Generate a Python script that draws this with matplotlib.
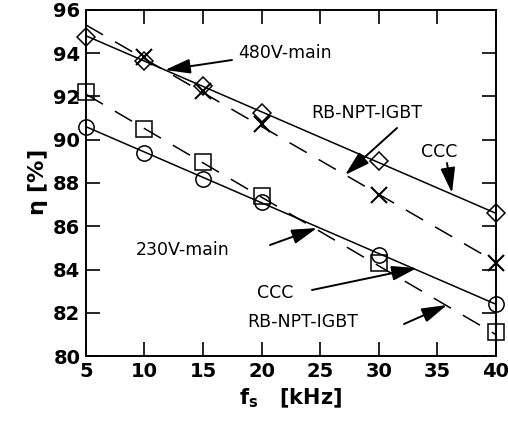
import matplotlib
matplotlib.use("Agg")
import matplotlib.pyplot as plt
import numpy as np

fs = [5, 10, 15, 20, 30, 40]

# 480V mains
eta_480_ccc = [94.75, 93.65, 92.5, 91.25, 89.0, 86.6]
fs_480_rb = [10, 15, 20, 30, 40]
eta_480_rb = [93.8, 92.25, 90.7, 87.45, 84.3]
# 230V mains
eta_230_ccc = [90.6, 89.4, 88.2, 87.1, 84.65, 82.4]
eta_230_rb = [92.2, 90.5, 88.95, 87.4, 84.3, 81.1]

# straight fit lines drawn on the chart (end values at 5 and 40 kHz)
fit_x = [5, 40]
fit_480_ccc = [94.8, 86.6]
fit_480_rb = [95.3, 84.35]
fit_230_ccc = [90.6, 82.4]
fit_230_rb = [92.1, 81.0]

plt.rcParams['font.family'] = 'DejaVu Sans'

fig = plt.figure(figsize=(5.08, 4.23), dpi=100)
ax = fig.add_axes([0.169, 0.158, 0.807, 0.819])

dash = (0, (13, 9))
ax.plot(fit_x, fit_480_ccc, color='k', lw=1.1)
ax.plot(fit_x, fit_230_ccc, color='k', lw=1.1)
ax.plot(fit_x, fit_480_rb, color='k', lw=1.1, linestyle=dash)
ax.plot(fit_x, fit_230_rb, color='k', lw=1.1, linestyle=dash)

ax.plot(fs, eta_480_ccc, 'D', mfc='none', mec='k', ms=9, mew=1.1, clip_on=False)
ax.plot(fs_480_rb, eta_480_rb, 'x', color='k', ms=11, mew=1.5, clip_on=False)
ax.plot(fs, eta_230_ccc, 'o', mfc='none', mec='k', ms=11, mew=1.1, clip_on=False)
ax.plot(fs, eta_230_rb, 's', mfc='none', mec='k', ms=11, mew=1.1, clip_on=False)

ax.set_xlim(5, 40)
ax.set_ylim(80, 96)
ax.set_xticks([5, 10, 15, 20, 25, 30, 35, 40])
ax.set_yticks([80, 82, 84, 86, 88, 90, 92, 94, 96])
ax.tick_params(direction='in', length=10, width=1.2, top=True, right=True,
               labelsize=14, pad=4)
for lab in ax.get_xticklabels() + ax.get_yticklabels():
    lab.set_fontweight('bold')
for sp in ax.spines.values():
    sp.set_linewidth(1.4)

ax.set_xlabel(r'$\mathbf{f_s}$   [kHz]', fontsize=15, fontweight='bold', labelpad=4)
ax.set_ylabel(r'$\mathbf{\eta}$ [%]', fontsize=16, fontweight='bold', labelpad=2)

arrow = dict(arrowstyle='-|>,head_length=0.55,head_width=0.16', mutation_scale=28,
             lw=1.4, color='k', shrinkA=0, shrinkB=0)
txt = dict(fontsize=12.5, ha='left', va='center')


def px(x, y):
    # figure pixel coordinates (from top-left) to data coords
    inv = ax.transData.inverted()
    return inv.transform((x, 423 - y))


fig.canvas.draw()
ax.annotate('480V-main', xy=px(238, 53), **txt)
ax.annotate('', xy=px(165, 70), xytext=px(232, 60), arrowprops=arrow)
ax.annotate('RB-NPT-IGBT', xy=px(311, 113), **txt)
ax.annotate('', xy=px(345, 175), xytext=px(397, 128), arrowprops=arrow)
ax.annotate('CCC', xy=px(421, 152), **txt)
ax.annotate('', xy=px(452, 193), xytext=px(447, 163), arrowprops=arrow)
ax.annotate('230V-main', xy=px(136, 250), **txt)
ax.annotate('', xy=px(317, 228), xytext=px(270, 245), arrowprops=arrow)
ax.annotate('CCC', xy=px(257, 293), **txt)
ax.annotate('', xy=px(417, 268), xytext=px(312, 290), arrowprops=arrow)
ax.annotate('RB-NPT-IGBT', xy=px(247, 322), **txt)
ax.annotate('', xy=px(447, 305), xytext=px(404, 324), arrowprops=arrow)

fig.savefig('out.png', dpi=100)
